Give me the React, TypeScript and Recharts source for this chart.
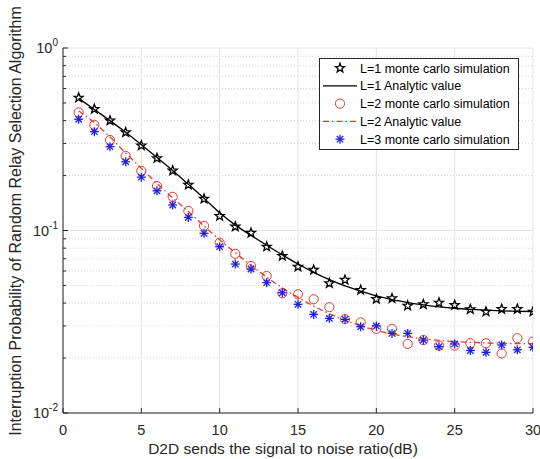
import React from 'react';
import { ComposedChart, Line, Scatter, XAxis, YAxis, CartesianGrid, Legend } from 'recharts';

const snr = [1,2,3,4,5,6,7,8,9,10,11,12,13,14,15,16,17,18,19,20,21,22,23,24,25,26,27,28,29,30];
const l1Monte = [0.534,0.463,0.40,0.345,0.292,0.249,0.213,0.178,0.149,0.12,0.105,0.097,0.0815,0.0725,0.0633,0.0608,0.0514,0.0536,0.0472,0.0421,0.0425,0.0387,0.0394,0.0402,0.039,0.037,0.0359,0.0371,0.0371,0.0359];
const l1Analytic = [0.53,0.46,0.40,0.345,0.295,0.251,0.213,0.179,0.15,0.125,0.107,0.094,0.083,0.0735,0.0655,0.059,0.0538,0.0497,0.0465,0.0438,0.0418,0.0403,0.0391,0.0382,0.0375,0.037,0.0366,0.0363,0.0361,0.0359];
const l2Monte = [0.444,0.379,0.313,0.256,0.212,0.175,0.153,0.128,0.106,0.0857,0.0745,0.0639,0.0563,0.0453,0.0447,0.042,0.038,0.0327,0.0314,0.0289,0.0289,0.0239,0.0251,0.0234,0.0234,0.0241,0.0241,0.0212,0.0257,0.0246];
const l2Analytic = [0.452,0.39,0.325,0.266,0.219,0.181,0.151,0.127,0.106,0.089,0.0755,0.0645,0.0555,0.0485,0.043,0.0385,0.035,0.0322,0.0301,0.0284,0.0271,0.0262,0.0255,0.025,0.0246,0.0244,0.0242,0.0241,0.024,0.024];
const l3Monte = [0.407,0.348,0.288,0.238,0.196,0.165,0.138,0.118,0.0965,0.0815,0.0655,0.0615,0.0518,0.0456,0.0394,0.0347,0.033,0.0326,0.0297,0.03,0.0273,0.0273,0.0251,0.0231,0.0239,0.022,0.0215,0.0236,0.0222,0.0229];

const xTicks = [0,5,10,15,20,25,30];
const yMajor = [0.01,0.1,1];
const yMinor = [0.02,0.03,0.04,0.05,0.06,0.07,0.08,0.09,0.2,0.3,0.4,0.5,0.6,0.7,0.8,0.9];
const yAll = [0.01,0.02,0.03,0.04,0.05,0.06,0.07,0.08,0.09,0.1,0.2,0.3,0.4,0.5,0.6,0.7,0.8,0.9,1];
const decadeLabels: Record<string,string> = { '0.01': '-2', '0.1': '-1', '1': '0' };

const legendLabels = [
  'L=1 monte carlo simulation',
  'L=1 Analytic value',
  'L=2 monte carlo simulation',
  'L=2 Analytic value',
  'L=3 monte carlo simulation',
];

const data = snr.map((x, i) => ({
  x,
  l1m: l1Monte[i],
  l1a: l1Analytic[i],
  l2m: l2Monte[i],
  l2a: l2Analytic[i],
  l3m: l3Monte[i],
}));

const AX = '#262626';
const RED = '#e53a30';
const BLUE = '#1f1fd8';
const FONT = '"Liberation Sans", Arial, Helvetica, sans-serif';

const isMajor = (v: number) => Math.abs(Math.log10(v) - Math.round(Math.log10(v))) < 1e-6;

function starPath(cx: number, cy: number, R: number) {
  const r = R * 0.42;
  let d = '';
  for (let i = 0; i < 10; i++) {
    const rad = i % 2 === 0 ? R : r;
    const a = -Math.PI / 2 + (i * Math.PI) / 5;
    d += (i === 0 ? 'M' : 'L') + (cx + rad * Math.cos(a)).toFixed(2) + ',' + (cy + rad * Math.sin(a)).toFixed(2);
  }
  return d + 'Z';
}

const StarShape = (p: any) => <path d={starPath(p.cx, p.cy, 4.8)} fill="none" stroke="#000" strokeWidth={1.3} />;
const CircleShape = (p: any) => <circle cx={p.cx} cy={p.cy} r={4.6} fill="none" stroke={RED} strokeWidth={1} />;
const AsteriskShape = (p: any) => {
  const s = 4.5, d = 3.2;
  return (
    <g stroke={BLUE} strokeWidth={1.3}>
      <line x1={p.cx - s} y1={p.cy} x2={p.cx + s} y2={p.cy} />
      <line x1={p.cx} y1={p.cy - s} x2={p.cx} y2={p.cy + s} />
      <line x1={p.cx - d} y1={p.cy - d} x2={p.cx + d} y2={p.cy + d} />
      <line x1={p.cx - d} y1={p.cy + d} x2={p.cx + d} y2={p.cy - d} />
    </g>
  );
};

const LeftTick = (p: any) => {
  const v = p.payload.value;
  const major = isMajor(v);
  return (
    <g>
      <line x1={p.x} y1={p.y} x2={p.x + (major ? 5 : 3)} y2={p.y} stroke={AX} strokeWidth={1} />
      {major && (
        <text x={p.x - 5} y={p.y} dy="0.36em" textAnchor="end" fill={AX} fontSize={14.5} fontFamily={FONT}>
          <tspan>10</tspan>
          <tspan dy={-7} fontSize={10}>{decadeLabels[String(v)]}</tspan>
        </text>
      )}
    </g>
  );
};

const RightTick = (p: any) => {
  const v = p.payload.value;
  return <line x1={p.x} y1={p.y} x2={p.x - (isMajor(v) ? 5 : 3)} y2={p.y} stroke={AX} strokeWidth={1} />;
};

const BottomTick = (p: any) => (
  <g>
    <line x1={p.x} y1={p.y} x2={p.x} y2={p.y - 5} stroke={AX} strokeWidth={1} />
    <text x={p.x} y={p.y + 22} textAnchor="middle" fill={AX} fontSize={14.5} fontFamily={FONT}>{p.payload.value}</text>
  </g>
);

const TopTick = (p: any) => <line x1={p.x} y1={p.y} x2={p.x} y2={p.y + 5} stroke={AX} strokeWidth={1} />;

const LegendBox = () => {
  const rows = [0, 1, 2, 3, 4];
  return (
    <svg width={200} height={92} style={{ display: 'block' }}>
      <rect x={0.5} y={0.5} width={199} height={91} fill="#fff" stroke={AX} strokeWidth={1} />
      {rows.map((i) => {
        const cy = 10 + i * 17.8;
        let sym: React.ReactNode = null;
        if (i === 0) sym = <StarShape cx={21} cy={cy} />;
        if (i === 1) sym = <line x1={4} y1={cy} x2={38} y2={cy} stroke="#000" strokeWidth={1.2} />;
        if (i === 2) sym = <CircleShape cx={21} cy={cy} />;
        if (i === 3) sym = <line x1={4} y1={cy} x2={38} y2={cy} stroke={RED} strokeWidth={1.2} strokeDasharray="6 3 1.5 3" />;
        if (i === 4) sym = <AsteriskShape cx={21} cy={cy} />;
        return (
          <g key={i}>
            {sym}
            <text x={41} y={cy} dy="0.36em" fontSize={12.5} fill="#000" fontFamily={FONT}>{legendLabels[i]}</text>
          </g>
        );
      })}
    </svg>
  );
};

export default function App() {
  return (
    <div style={{ position: 'absolute', left: 0, top: 0, background: '#fff' }}>
      <ComposedChart width={540} height={459} data={data} margin={{ top: 48, right: 7, bottom: 0, left: 0 }}>
        <CartesianGrid horizontalValues={yMinor} vertical={false} stroke="#d4d4d4" strokeDasharray="1 2" />
        <CartesianGrid horizontalValues={yMajor} verticalValues={xTicks} stroke="#e3e3e3" />
        <XAxis dataKey="x" type="number" domain={[0, 30]} ticks={xTicks} interval={0} height={46}
          tickSize={0} tickMargin={0} stroke={AX} tick={<BottomTick />} tickLine={false} allowDataOverflow
          label={(props: any) => {
            const vb = props.viewBox;
            return (
              <text x={283} y={vb.y + 41} textAnchor="middle" fontSize={15.5} fill={AX} fontFamily={FONT}>
                D2D sends the signal to noise ratio(dB)
              </text>
            );
          }} />
        <XAxis xAxisId="t" orientation="top" dataKey="x" type="number" domain={[0, 30]} ticks={xTicks} interval={0}
          height={0} tickSize={0} tickMargin={0} stroke={AX} tick={<TopTick />} tickLine={false} allowDataOverflow />
        <YAxis scale="log" type="number" domain={[0.01, 1]} ticks={yAll} interval={0} width={63}
          tickSize={0} tickMargin={0} stroke={AX} tick={<LeftTick />} tickLine={false} allowDataOverflow
          label={() => (
            <text x={21} y={221} textAnchor="middle" fontSize={16} fill={AX} fontFamily={FONT} transform="rotate(-90, 21, 221)">
              Interruption Probability of Random Relay Selection Algorithm
            </text>
          )} />
        <YAxis yAxisId="r" orientation="right" scale="log" type="number" domain={[0.01, 1]} ticks={yAll} interval={0}
          width={0} tickSize={0} tickMargin={0} stroke={AX} tick={<RightTick />} tickLine={false} allowDataOverflow />
        <Line dataKey="l1a" type="monotone" stroke="#000" strokeWidth={1.3} dot={false} isAnimationActive={false} />
        <Line dataKey="l2a" type="monotone" stroke={RED} strokeWidth={1.3} strokeDasharray="6 3 1.5 3" dot={false} isAnimationActive={false} />
        <Scatter dataKey="l1m" shape={<StarShape />} isAnimationActive={false} />
        <Scatter dataKey="l2m" shape={<CircleShape />} isAnimationActive={false} />
        <Scatter dataKey="l3m" shape={<AsteriskShape />} isAnimationActive={false} />
        <Legend layout="vertical" align="center" verticalAlign="middle" content={() => <LegendBox />}
          wrapperStyle={{ left: 319, top: 58, width: 200, height: 92 }} />
      </ComposedChart>
    </div>
  );
}
